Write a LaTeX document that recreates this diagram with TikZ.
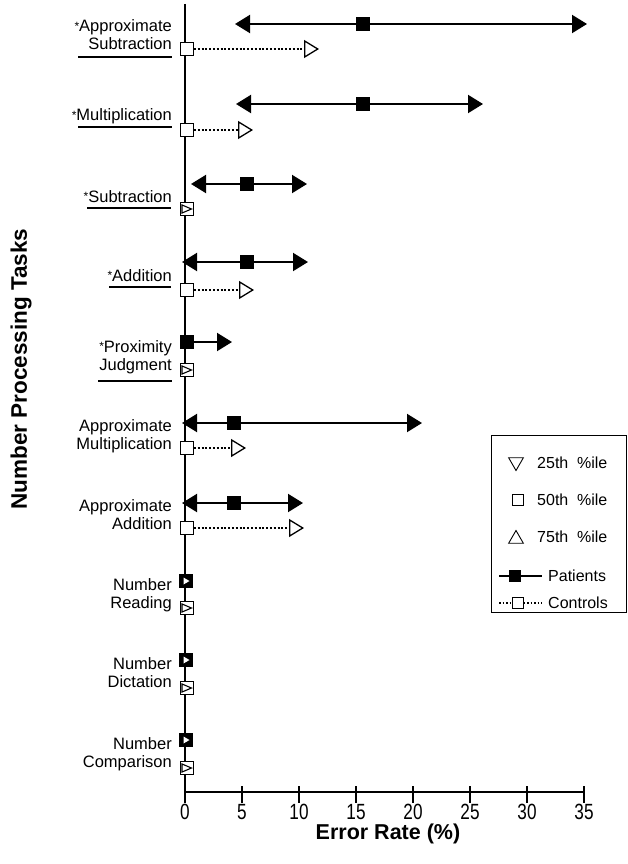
\documentclass[tikz,border=0pt]{standalone}
\usepackage{fontspec}
\setmainfont{Liberation Sans}
\newfontfamily\ticknarrow[FakeStretch=0.78]{Liberation Sans}
\usetikzlibrary{arrows.meta,shapes.geometric}
\newcommand{\sigmark}{\raisebox{1.5pt}{\fontsize{12}{12}\selectfont *}}
\begin{document}
\begin{tikzpicture}[x=1pt,y=-1pt,
  lab/.style={anchor=base east, inner sep=0pt, font=\fontsize{16.5}{19}\selectfont},
  legtxt/.style={anchor=base west, inner sep=0pt, font=\fontsize{16}{18}\selectfont},
  ticklab/.style={inner sep=0pt, font=\fontsize{22}{24}\ticknarrow},
  axtitle/.style={inner sep=0pt, font=\fontsize{21.5}{24}\selectfont\bfseries},
  pmed/.style={rectangle, fill=black, minimum size=14pt, inner sep=0pt},
  cmed/.style={rectangle, draw, fill=white, line width=1.3pt, minimum size=12.5pt, inner sep=0pt},
  pzero/.style={pmed, path picture={\fill[white]
      ([xshift=-2.5pt,yshift=3.5pt]path picture bounding box.center) --
      ([xshift=3.5pt]path picture bounding box.center) --
      ([xshift=-2.5pt,yshift=-3.5pt]path picture bounding box.center) -- cycle;}},
  czero/.style={cmed, path picture={\draw[line width=1.1pt, line join=miter]
      ([xshift=1.2pt,yshift=-2.2pt]path picture bounding box.north west) --
      ([xshift=-1.8pt]path picture bounding box.east) --
      ([xshift=1.2pt,yshift=2.2pt]path picture bounding box.south west) -- cycle;}},
  pline/.style={line width=2pt},
  cline/.style={line width=1.6pt, dash pattern=on 2pt off 1.8pt},
  ptip/.style={-{Triangle[length=15pt,width=18pt]}},
  ctip/.style={-{Triangle[open,length=15pt,width=18pt,line width=1.3pt]}},
  uline/.style={line width=1.8pt},
  axis/.style={line width=1.4pt}
]
\useasboundingbox (0,0) rectangle (628,864);

% axes
\coordinate (ytop) at (185,4);
\coordinate (orig) at (185,792);
\coordinate (xend) at (584,792);
\draw[axis] (ytop) -- (orig) -- (xend);
\foreach \k in {0,...,7}{
  \pgfmathsetmacro{\xx}{185+57*\k}
  \draw[axis] (\xx,786) -- (\xx,803);
  \pgfmathtruncatemacro{\vv}{5*\k}
  \node[ticklab] (tick\k) at (\xx,812) {\vv};
}
\node[axtitle] (xtitle) at (388,834) {Error Rate (\%)};
\node[axtitle, font=\fontsize{22.5}{24}\selectfont\bfseries, rotate=90] (ytitle) at (21,369) {Number Processing Tasks};

% ---------- Row 1: Approximate Subtraction
\node[lab] (l1a) at (172,32) {\sigmark Approximate};
\node[lab] (l1b) at (172,50) {Subtraction};
\draw[uline] (78,57) -- (172,57);
\node[pmed] (p1) at (363,24) {};
\coordinate (p1l) at (235,24);
\coordinate (p1r) at (587,24);
\draw[pline,ptip] (p1) -- (p1l);
\draw[pline,ptip] (p1) -- (p1r);
\node[cmed] (c1) at (187,49) {};
\coordinate (c1r) at (319,49);
\draw[cline,ctip] (c1) -- (c1r);

% ---------- Row 2: Multiplication
\node[lab] (l2a) at (172,121) {\sigmark Multiplication};
\draw[uline] (78,127) -- (172,127);
\node[pmed] (p2) at (363,104) {};
\coordinate (p2l) at (236,104);
\coordinate (p2r) at (483,104);
\draw[pline,ptip] (p2) -- (p2l);
\draw[pline,ptip] (p2) -- (p2r);
\node[cmed] (c2) at (187,130) {};
\coordinate (c2r) at (253,130);
\draw[cline,ctip] (c2) -- (c2r);

% ---------- Row 3: Subtraction
\node[lab] (l3a) at (172,202) {\sigmark Subtraction};
\draw[uline] (87,208) -- (171,208);
\node[pmed] (p3) at (247,184) {};
\coordinate (p3l) at (191,184);
\coordinate (p3r) at (307,184);
\draw[pline,ptip] (p3) -- (p3l);
\draw[pline,ptip] (p3) -- (p3r);
\node[czero] (c3) at (187,209) {};

% ---------- Row 4: Addition
\node[lab] (l4a) at (172,281) {\sigmark Addition};
\draw[uline] (109,287) -- (171,287);
\node[pmed] (p4) at (247,262) {};
\coordinate (p4l) at (182,262);
\coordinate (p4r) at (308,262);
\draw[pline,ptip] (p4) -- (p4l);
\draw[pline,ptip] (p4) -- (p4r);
\node[cmed] (c4) at (187,290) {};
\coordinate (c4r) at (254,290);
\draw[cline,ctip] (c4) -- (c4r);

% ---------- Row 5: Proximity Judgment
\node[lab] (l5a) at (172,352) {\sigmark Proximity};
\node[lab] (l5b) at (172,370) {Judgment};
\draw[uline] (98,381) -- (172,381);
\node[pmed] (p5) at (187,342) {};
\coordinate (p5r) at (232,342);
\draw[pline,ptip] (p5) -- (p5r);
\node[czero] (c5) at (187,370) {};

% ---------- Row 6: Approximate Multiplication
\node[lab] (l6a) at (172,431) {Approximate};
\node[lab] (l6b) at (172,449) {Multiplication};
\node[pmed] (p6) at (234,423) {};
\coordinate (p6l) at (182,423);
\coordinate (p6r) at (422,423);
\draw[pline,ptip] (p6) -- (p6l);
\draw[pline,ptip] (p6) -- (p6r);
\node[cmed] (c6) at (187,448) {};
\coordinate (c6r) at (246,448);
\draw[cline,ctip] (c6) -- (c6r);

% ---------- Row 7: Approximate Addition
\node[lab] (l7a) at (172,511) {Approximate};
\node[lab] (l7b) at (172,529) {Addition};
\node[pmed] (p7) at (234,503) {};
\coordinate (p7l) at (182,503);
\coordinate (p7r) at (303,503);
\draw[pline,ptip] (p7) -- (p7l);
\draw[pline,ptip] (p7) -- (p7r);
\node[cmed] (c7) at (187,528) {};
\coordinate (c7r) at (304,528);
\draw[cline,ctip] (c7) -- (c7r);

% ---------- Row 8: Number Reading
\node[lab] (l8a) at (172,590) {Number};
\node[lab] (l8b) at (172,608) {Reading};
\node[pzero] (p8) at (186,581) {};
\node[czero] (c8) at (187,608) {};

% ---------- Row 9: Number Dictation
\node[lab] (l9a) at (172,669) {Number};
\node[lab] (l9b) at (172,687) {Dictation};
\node[pzero] (p9) at (186,660) {};
\node[czero] (c9) at (187,688) {};

% ---------- Row 10: Number Comparison
\node[lab] (l10a) at (172,749) {Number};
\node[lab] (l10b) at (172,767) {Comparison};
\node[pzero] (p10) at (186,740) {};
\node[czero] (c10) at (187,768) {};

% ---------- Legend
\node[draw, line width=1pt, minimum width=135pt, minimum height=177pt, inner sep=0pt] (legend) at (558.5,523.5) {};
\node[regular polygon, regular polygon sides=3, shape border rotate=180, draw, line width=0.9pt, minimum size=17pt, inner sep=0pt] (lg25) at (516,462) {};
\node[legtxt] (lt25) at (537,468) {25th\hspace{0.55em}\%ile};
\node[rectangle, draw, line width=0.7pt, minimum size=10.5pt, inner sep=0pt] (lg50) at (518,500) {};
\node[legtxt] (lt50) at (537,505) {50th\hspace{0.55em}\%ile};
\node[regular polygon, regular polygon sides=3, draw, line width=0.9pt, minimum size=17pt, inner sep=0pt] (lg75) at (516,539) {};
\node[legtxt] (lt75) at (537,542) {75th\hspace{0.55em}\%ile};
\coordinate (lgpl) at (499,576);
\coordinate (lgpr) at (542,576);
\node[pmed, minimum size=12pt] (lgp) at (515,576) {};
\draw[pline] (lgpl) -- (lgp) -- (lgpr);
\node[legtxt] (ltp) at (548,581) {Patients};
\coordinate (lgcl) at (499,603);
\coordinate (lgcr) at (542,603);
\draw[line width=1.2pt, dash pattern=on 1.5pt off 2pt] (lgcl) -- (lgcr);
\node[rectangle, draw, fill=white, line width=1pt, minimum size=11pt, inner sep=0pt] (lgc) at (518,603) {};
\node[legtxt] (ltc) at (548,608) {Controls};
\end{tikzpicture}
\end{document}
